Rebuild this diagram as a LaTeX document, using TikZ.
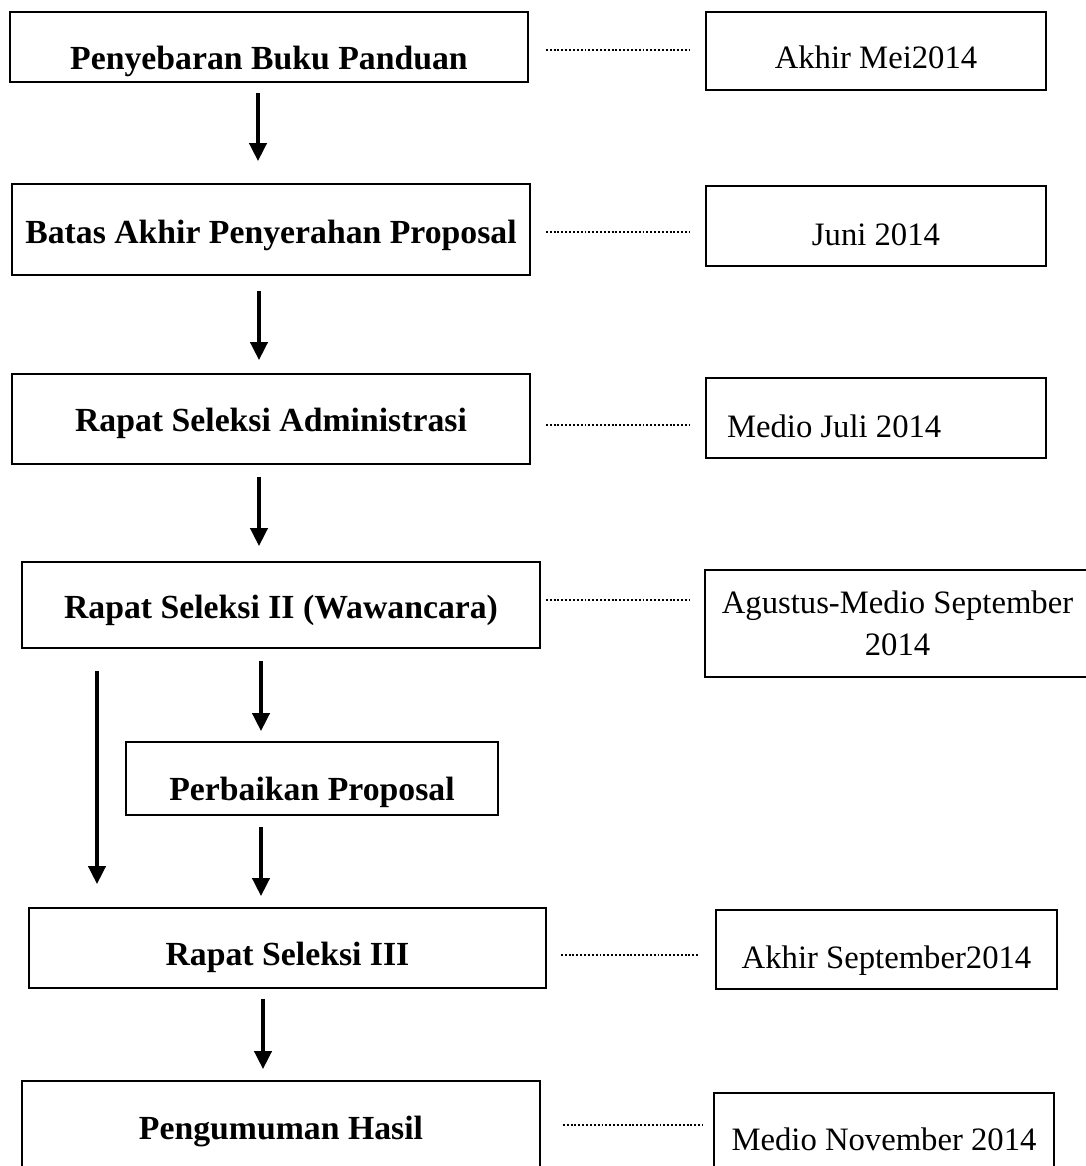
\documentclass[tikz,border=0pt]{standalone}
\usepackage{fontspec}
\setmainfont{Liberation Serif}
\usetikzlibrary{arrows.meta}

\begin{document}
\begin{tikzpicture}[
        stage/.style={draw,line width=1pt,inner sep=0pt,minimum width=10.36cm,font=\fontsize{19.2}{24}\selectfont\bfseries},
        datebox/.style={draw,line width=1pt,inner sep=0pt,minimum width=6.8cm,align=center,font=\fontsize{18.6}{24}\selectfont},
        flow/.style={-{Triangle[length=0.36cm,width=0.34cm]},line width=2.2pt},
        leader/.style={line width=1.1pt,dash pattern=on 1.1pt off 1.1pt}]
        \useasboundingbox(0,0)rectangle(21.7,-23.32);

        \node[stage,text height=1.14cm,text depth=0.26cm](b1)at(5.38,-0.94){Penyebaran Buku Panduan};
        \node[stage,text height=1.18cm,text depth=0.64cm](b2)at(5.42,-4.59){Batas Akhir Penyerahan Proposal};
        \node[stage,text height=1.14cm,text depth=0.66cm](b3)at(5.42,-8.38){Rapat Seleksi Administrasi};
        \node[stage,text height=1.12cm,text depth=0.6cm](b4)at(5.62,-12.1){Rapat Seleksi II (Wawancara)};
        \node[stage,text height=1.16cm,text depth=0.3cm,minimum width=7.44cm](b5)at(6.24,-15.57){Perbaikan Proposal};
        \node[stage,text height=1.14cm,text depth=0.46cm,minimum width=10.34cm](b6)at(5.75,-18.96){Rapat Seleksi III};
        \node[stage,text height=1.16cm,text depth=0.82cm](b7)at(5.62,-22.61){Pengumuman Hasil};

        \node[datebox,text height=1.12cm,text depth=0.44cm](r1)at(17.52,-1.02){Akhir Mei2014};
        \node[datebox,text height=1.18cm,text depth=0.42cm](r2)at(17.52,-4.52){Juni 2014};
        \node[datebox,text height=1.18cm,text depth=0.42cm](r3)at(17.52,-8.36){\makebox[5.96cm][l]{Medio Juli 2014}};
        \node[datebox,minimum width=7.7cm,minimum height=2.14cm](r4)at(17.95,-12.47){Agustus-Medio September\\2014};
        \node[datebox,text height=1.16cm,text depth=0.42cm,minimum width=6.82cm](r5)at(17.73,-18.99){Akhir September2014};
        \node[datebox,text height=1.14cm,text depth=0.8cm](r6)at(17.68,-22.83){Medio November 2014};

        \draw[flow,shorten <=0.2cm,shorten >=0.44cm]([xshift=-0.22cm]b1.south)--([xshift=-0.22cm]b1.south |- b2.north);
        \draw[flow,shorten <=0.3cm,shorten >=0.26cm]([xshift=-0.24cm]b2.south)--([xshift=-0.24cm]b2.south |- b3.north);
        \draw[flow,shorten <=0.24cm,shorten >=0.3cm]([xshift=-0.24cm]b3.south)--([xshift=-0.24cm]b3.south |- b4.north);
        \draw[flow,shorten <=0.24cm,shorten >=0.2cm]([xshift=-0.4cm]b4.south)--([xshift=-0.4cm]b4.south |- b5.north);
        \draw[flow,shorten <=0.22cm,shorten >=0.22cm]([xshift=-1.02cm]b5.south)--([xshift=-1.02cm]b5.south |- b6.north);
        \draw[flow,shorten <=0.44cm,shorten >=0.46cm]([xshift=-3.68cm]b4.south)--([xshift=-3.68cm]b4.south |- b6.north);
        \draw[flow,shorten <=0.2cm,shorten >=0.22cm]([xshift=-0.49cm]b6.south)--([xshift=-0.49cm]b6.south |- b7.north);

        \draw[leader,shorten <=0.34cm,shorten >=0.32cm]([yshift=-0.06cm]b1.east)--([yshift=-0.06cm]b1.east -| r1.west);
        \draw[leader,shorten <=0.3cm,shorten >=0.32cm]([yshift=-0.05cm]b2.east)--([yshift=-0.05cm]b2.east -| r2.west);
        \draw[leader,shorten <=0.3cm,shorten >=0.32cm]([yshift=-0.12cm]b3.east)--([yshift=-0.12cm]b3.east -| r3.west);
        \draw[leader,shorten <=0.1cm,shorten >=0.3cm]([yshift=0.1cm]b4.east)--([yshift=0.1cm]b4.east -| r4.west);
        \draw[leader,shorten <=0.28cm,shorten >=0.32cm]([yshift=-0.14cm]b6.east)--([yshift=-0.14cm]b6.east -| r5.west);
        \draw[leader,shorten <=0.44cm,shorten >=0.2cm]([yshift=0.11cm]b7.east)--([yshift=0.11cm]b7.east -| r6.west);
    \end{tikzpicture}
\end{document}
